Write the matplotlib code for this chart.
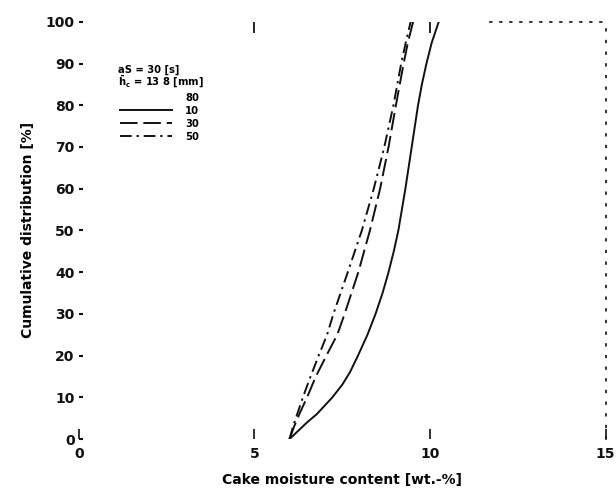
import matplotlib
matplotlib.use("Agg")
import matplotlib.pyplot as plt

# Data
y_10 = [0, 2, 4, 6, 8, 10, 13, 16, 20, 25, 30, 35, 40, 45, 50, 55, 60, 65, 70, 75, 80, 85, 90, 95, 100]
x_10 = [6.0, 6.25, 6.5, 6.78, 7.0, 7.22, 7.5, 7.72, 7.95, 8.22, 8.45, 8.65, 8.82, 8.97, 9.1,
        9.2, 9.3, 9.39, 9.48, 9.57, 9.66, 9.77, 9.9, 10.05, 10.25]

y_30 = [0, 3, 6, 10, 15, 20, 25, 30, 40, 50, 60, 70, 80, 90, 95, 100]
x_30 = [6.0, 6.13, 6.28, 6.5, 6.75, 7.05, 7.36, 7.57, 7.96, 8.29, 8.58, 8.82, 9.03, 9.25, 9.37, 9.52]

y_50 = [0, 3, 6, 10, 15, 20, 25, 30, 40, 50, 60, 70, 80, 90, 95, 100]
x_50 = [6.0, 6.1, 6.22, 6.38, 6.6, 6.83, 7.07, 7.25, 7.66, 8.06, 8.4, 8.7, 8.96, 9.18, 9.31, 9.45]

series_labels = ["10", "30", "50"]
legend_title = "80"
header_lines = ["aS = 30 [s]", r"$\bar{\mathbf{h}}_\mathbf{c}$ = 13 8 [mm]"]

x_ticks = [0, 5, 10, 15]
y_ticks = [0, 10, 20, 30, 40, 50, 60, 70, 80, 90, 100]
top_ticks = [5, 10]

plt.rcParams['font.family'] = ['DejaVu Sans']
plt.rcParams['font.weight'] = 'bold'

fig = plt.figure(figsize=(6.16, 4.95), dpi=100)
ax = fig.add_axes([0.128, 0.113, 0.855, 0.843])

ink = "#111111"
l1, = ax.plot(x_10, y_10, color=ink, lw=1.4, ls='-')
l2, = ax.plot(x_30, y_30, color=ink, lw=1.4, ls=(0, (9, 3)))
l3, = ax.plot(x_50, y_50, color=ink, lw=1.4, ls=(0, (6, 2.5, 1.2, 2.5)))

ax.set_xlim(0, 15)
ax.set_ylim(0, 100)

ax.set_xticks(x_ticks)
ax.set_xticklabels([str(v) for v in x_ticks], fontsize=10, fontweight='bold')
ax.set_yticks(y_ticks)
ax.set_yticklabels([str(v) for v in y_ticks], fontsize=10, fontweight='bold')
ax.tick_params(axis='x', direction='in', length=7, width=1.2, pad=6, colors=ink)
ax.tick_params(axis='y', direction='in', length=3, width=1.5, pad=3, colors=ink)

# top tick marks
sec = ax.secondary_xaxis('top')
sec.set_xticks(top_ticks)
sec.set_xticklabels([])
sec.tick_params(direction='in', length=8, width=1.3, colors=ink)
sec.spines['top'].set_visible(False)

for s in ['left', 'bottom']:
    ax.spines[s].set_visible(False)
ax.spines['top'].set_bounds(11.7, 15)
ax.spines['top'].set_linestyle((0, (1, 5)))
ax.spines['top'].set_linewidth(1.2)
ax.spines['top'].set_color(ink)
ax.spines['right'].set_linestyle((0, (1, 6)))
ax.spines['right'].set_linewidth(1.2)
ax.spines['right'].set_color(ink)

ax.set_xlabel("Cake moisture content [wt.-%]", fontsize=10, fontweight='bold', labelpad=8)
ax.set_ylabel("Cumulative distribution [%]", fontsize=10, fontweight='bold', labelpad=8)

ax.text(0.075, 0.885, header_lines[0], transform=ax.transAxes, fontsize=7.2,
        fontweight='bold', va='center', ha='left')
ax.text(0.075, 0.856, header_lines[1], transform=ax.transAxes, fontsize=7.2,
        fontweight='bold', va='center', ha='left')

leg = ax.legend([l1, l2, l3], series_labels, title=legend_title, loc='upper left',
                bbox_to_anchor=(0.078, 0.83), frameon=False, borderpad=0,
                borderaxespad=0, labelspacing=0.3, handlelength=5.2,
                handletextpad=1.3, fontsize=7.2, title_fontsize=7.2,
                alignment='right')
leg.get_title().set_fontweight('bold')
for t in leg.get_texts():
    t.set_fontweight('bold')

fig.savefig("out.png", dpi=100)
